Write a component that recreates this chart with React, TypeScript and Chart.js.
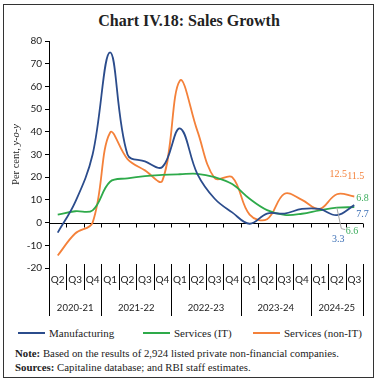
import React, { useEffect, useRef } from 'react';
import { Chart, registerables } from 'chart.js';
Chart.register(...registerables);

const quarters = ['Q2','Q3','Q4','Q1','Q2','Q3','Q4','Q1','Q2','Q3','Q4','Q1','Q2','Q3','Q4','Q1','Q2','Q3'];
const fiscalYears = ['2020-21','2021-22','2022-23','2023-24','2024-25'];
const quartersPerYear = [3, 4, 4, 4, 3];
const manufacturing = [-4.4, 9, 30, 75, 30, 27, 24.5, 41.5, 21.5, 10.5, 4.5, -0.5, 4, 4, 6, 6, 3.3, 7.7];
const servicesIT = [3.5, 5, 5.4, 18, 19.5, 20.5, 21, 21.3, 21.5, 20, 17, 10.5, 5.5, 3.4, 3.9, 5.4, 6.6, 6.8];
const servicesNonIT = [-14.5, -4.8, 0, 39.6, 28, 23, 18.5, 62.5, 40.5, 19.5, 20, 3.5, 1.5, 12.7, 10, 6, 12.5, 11.5];
const seriesNames = ['Manufacturing', 'Services (IT)', 'Services (non-IT)'];
const yMin = -20;
const yMax = 80;
const yStep = 10;

const BLUE = '#2B4C8C';
const GREEN = '#2EAA4A';
const ORANGE = '#F4813A';
const COLORS = [BLUE, GREEN, ORANGE];

const axisPlugin = {
  id: 'customAxis',
  beforeDatasetsDraw(chart: any) {
    const { ctx, chartArea: ca, scales } = chart;
    const x = scales.x;
    const y = scales.y;
    const n = quarters.length;
    const w = (ca.right - ca.left) / n;
    const y0 = Math.round(y.getPixelForValue(0)) + 0.5;
    ctx.save();
    ctx.strokeStyle = '#000';
    ctx.lineWidth = 1;
    ctx.beginPath();
    ctx.moveTo(ca.left, y0);
    ctx.lineTo(ca.right, y0);
    for (let i = 0; i <= n; i++) {
      const bx = Math.round(x.getPixelForValue(0) - w / 2 + i * w) + 0.5;
      ctx.moveTo(bx, y0);
      ctx.lineTo(bx, y0 + 4);
    }
    ctx.stroke();
    const yearStarts = new Set<number>();
    let acc = 0;
    yearStarts.add(0);
    quartersPerYear.forEach((q) => { acc += q; yearStarts.add(acc); });
    ctx.beginPath();
    for (let i = 0; i <= n; i++) {
      const bx = Math.round(x.getPixelForValue(0) - w / 2 + i * w) + 0.5;
      const isYear = yearStarts.has(i);
      ctx.moveTo(bx, ca.bottom - 4);
      ctx.lineTo(bx, ca.bottom + (isYear ? 48 : 22));
    }
    ctx.stroke();
    ctx.fillStyle = '#222';
    ctx.font = '9.5px Lato';
    ctx.textAlign = 'center';
    ctx.textBaseline = 'middle';
    let start = 0;
    fiscalYears.forEach((yr, k) => {
      const end = start + quartersPerYear[k];
      const cx = (x.getPixelForValue(start) + x.getPixelForValue(end - 1)) / 2;
      ctx.fillText(yr, cx, ca.bottom + 40);
      start = end;
    });
    ctx.save();
    ctx.translate(16, (ca.top + ca.bottom) / 2);
    ctx.rotate(-Math.PI / 2);
    ctx.textBaseline = 'middle';
    ctx.textAlign = 'left';
    const p1 = 'Per cent, ';
    const p2 = 'y-o-y';
    ctx.font = '10.5px "Liberation Serif"';
    const w1 = ctx.measureText(p1).width;
    ctx.font = 'italic 10.5px "Liberation Serif"';
    const w2 = ctx.measureText(p2).width;
    const sx = -(w1 + w2) / 2;
    ctx.font = '10.5px "Liberation Serif"';
    ctx.fillText(p1, sx, 0);
    ctx.font = 'italic 10.5px "Liberation Serif"';
    ctx.fillText(p2, sx + w1, 0);
    ctx.restore();
    ctx.restore();
  },
  afterDatasetsDraw(chart: any) {
    const { ctx } = chart;
    const pt = (ds: number, i: number) => chart.getDatasetMeta(ds).data[i];
    const last = quarters.length - 1;
    const prev = last - 1;
    ctx.save();
    ctx.font = '10px "Liberation Serif"';
    ctx.textBaseline = 'middle';
    ctx.fillStyle = ORANGE;
    ctx.textAlign = 'center';
    let p = pt(2, prev);
    ctx.fillText(servicesNonIT[prev].toFixed(1), p.x + 1.5, p.y - 20);
    p = pt(2, last);
    ctx.fillText(servicesNonIT[last].toFixed(1), p.x + 1.5, p.y - 20);
    ctx.fillStyle = '#3DAE5E';
    ctx.textAlign = 'left';
    p = pt(1, last);
    ctx.fillText(servicesIT[last].toFixed(1), p.x + 2, p.y - 9);
    p = pt(1, prev);
    ctx.fillText(servicesIT[prev].toFixed(1), p.x + 9, p.y + 24);
    ctx.strokeStyle = '#A6A6A6';
    ctx.lineWidth = 1;
    ctx.beginPath();
    ctx.moveTo(p.x, p.y);
    ctx.lineTo(p.x + 4.5, p.y + 21);
    ctx.lineTo(p.x + 8.5, p.y + 22);
    ctx.stroke();
    ctx.fillStyle = '#3A6EB5';
    p = pt(0, last);
    ctx.fillText(manufacturing[last].toFixed(1), p.x + 2, p.y + 9);
    ctx.textAlign = 'center';
    p = pt(0, prev);
    ctx.fillText(manufacturing[prev].toFixed(1), p.x + 1.5, p.y + 24);
    ctx.restore();
  },
};

const legendX = [18, 143, 253];

export default function App() {
  const ref = useRef<HTMLCanvasElement | null>(null);
  useEffect(() => {
    if (!ref.current) return;
    const mk = (label: string, data: number[], color: string) => ({
      label,
      data,
      borderColor: color,
      backgroundColor: color,
      borderWidth: 1.8,
      pointRadius: 0,
      tension: 0.38,
      fill: false,
    });
    const chart = new Chart(ref.current, {
      type: 'line',
      data: {
        labels: quarters,
        datasets: [
          mk(seriesNames[0], manufacturing, BLUE),
          mk(seriesNames[1], servicesIT, GREEN),
          mk(seriesNames[2], servicesNonIT, ORANGE),
        ],
      },
      options: {
        animation: false,
        responsive: false,
        maintainAspectRatio: false,
        layout: { padding: { top: 41, right: 15, left: 13, bottom: 19 } },
        plugins: {
          tooltip: { enabled: false },
          legend: { display: false },
        },
        scales: {
          x: {
            type: 'category',
            offset: true,
            grid: { display: false, drawTicks: false },
            border: { display: false },
            ticks: { font: { family: 'Lato', size: 10 }, color: '#222', padding: 6, maxRotation: 0, autoSkip: false },
            afterFit(s: any) { s.height = 33; },
          },
          y: {
            min: yMin,
            max: yMax,
            ticks: { stepSize: yStep, font: { family: 'Lato', size: 10 }, color: '#222', padding: 3 },
            grid: { drawOnChartArea: false, drawTicks: true, tickLength: 4, color: '#000' },
            border: { display: true, color: '#000', width: 1 },
            afterFit(s: any) { s.width = 36; },
          },
        },
      } as any,
      plugins: [axisPlugin],
    });
    return () => chart.destroy();
  }, []);

  return (
    <div style={{ position: 'absolute', left: 0, top: 0, width: 378, height: 381, background: '#fff' }}>
      <div style={{ position: 'absolute', left: 3, top: 4, width: 369, height: 372, border: '1px solid #333', boxSizing: 'content-box' }} />
      <div style={{ position: 'absolute', left: 0, top: 11, width: 378, textAlign: 'center', fontFamily: '"Liberation Serif"', fontWeight: 'bold', fontSize: 16, lineHeight: '20px', color: '#222' }}>
        Chart IV.18: Sales Growth
      </div>
      <canvas ref={ref} width={378} height={320} style={{ position: 'absolute', left: 0, top: 0, width: 378, height: 320 }} />
      {seriesNames.map((name, i) => (
        <div key={name} style={{ position: 'absolute', left: legendX[i], top: 326, height: 14, display: 'flex', alignItems: 'center', whiteSpace: 'nowrap' }}>
          <span style={{ display: 'inline-block', width: 27, height: 2, background: COLORS[i], marginRight: 4 }} />
          <span style={{ fontFamily: '"Liberation Serif"', fontSize: 11, color: '#222', lineHeight: '14px' }}>{name}</span>
        </div>
      ))}
      <div style={{ position: 'absolute', left: 15, top: 346, fontFamily: '"Liberation Serif"', fontSize: 10.8, lineHeight: '14px', color: '#222', whiteSpace: 'nowrap' }}>
        <div><b>Note:</b> Based on the results of 2,924 listed private non-financial companies.</div>
        <div><b>Sources:</b> Capitaline database; and RBI staff estimates.</div>
      </div>
    </div>
  );
}
